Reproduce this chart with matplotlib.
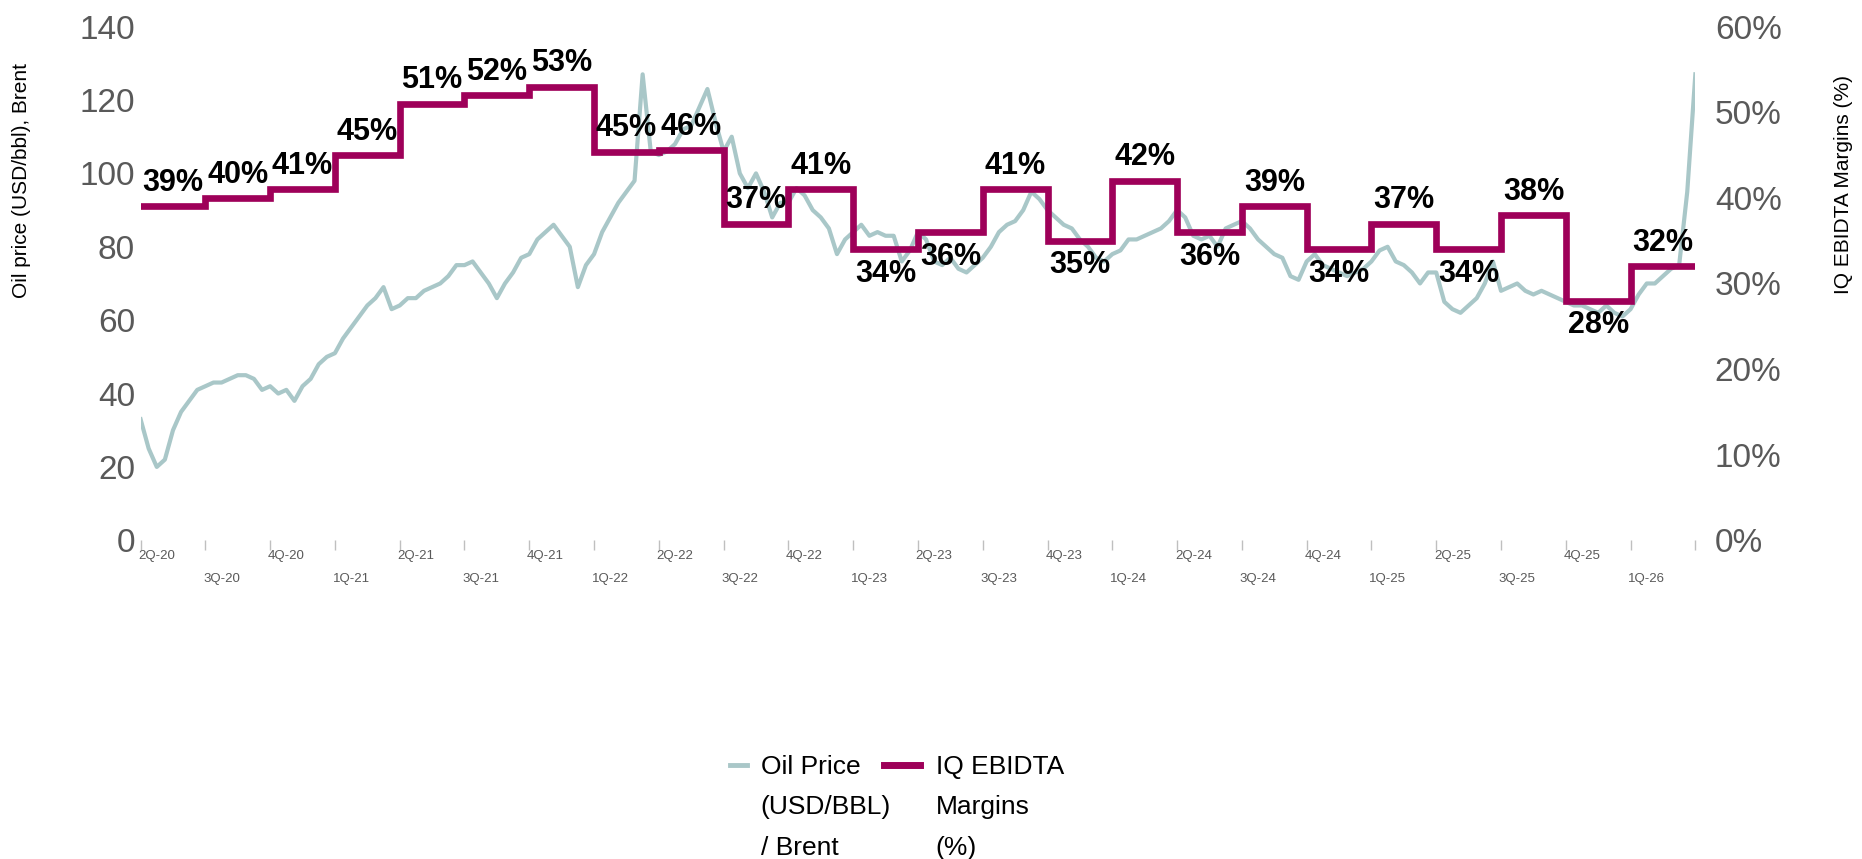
import numpy as np
import matplotlib.pyplot as plt
from matplotlib.lines import Line2D

plt.rcParams['font.family'] = ['Liberation Sans', 'DejaVu Sans']

# Quarter labels (one step of the margin line per quarter)
quarters = ['2Q-20', '3Q-20', '4Q-20', '1Q-21', '2Q-21', '3Q-21', '4Q-21', '1Q-22',
            '2Q-22', '3Q-22', '4Q-22', '1Q-23', '2Q-23', '3Q-23', '4Q-23', '1Q-24',
            '2Q-24', '3Q-24', '4Q-24', '1Q-25', '2Q-25', '3Q-25', '4Q-25', '1Q-26']

# IQ EBITDA margins (%) per quarter
margins = [39, 40, 41, 45, 51, 52, 53, 45.4, 45.6, 37, 41, 34,
           36, 41, 35, 42, 36, 39, 34, 37, 34, 38, 28, 32]

# label below the step for these quarters
below = [11, 12, 14, 16, 18, 20, 22]

# Brent oil price (USD/bbl), 8 readings per quarter plus the last point
oil = [
    33, 25, 20, 22, 30, 35, 38, 41,      # 2Q-20
    42, 43, 43, 44, 45, 45, 44, 41,      # 3Q-20
    42, 40, 41, 38, 42, 44, 48, 50,      # 4Q-20
    51, 55, 58, 61, 64, 66, 69, 63,      # 1Q-21
    64, 66, 66, 68, 69, 70, 72, 75,      # 2Q-21
    75, 76, 73, 70, 66, 70, 73, 77,      # 3Q-21
    78, 82, 84, 86, 83, 80, 69, 75,      # 4Q-21
    78, 84, 88, 92, 95, 98, 127, 106,    # 1Q-22
    105, 106, 108, 112, 113, 118, 123, 114,  # 2Q-22
    106, 110, 100, 96, 100, 95, 88, 92,  # 3Q-22
    92, 96, 94, 90, 88, 85, 78, 82,      # 4Q-22
    84, 86, 83, 84, 83, 83, 76, 79,      # 1Q-23
    84, 82, 76, 75, 77, 74, 73, 75,      # 2Q-23
    77, 80, 84, 86, 87, 90, 95, 93,      # 3Q-23
    90, 88, 86, 85, 82, 80, 77, 76,      # 4Q-23
    78, 79, 82, 82, 83, 84, 85, 87,      # 1Q-24
    90, 88, 83, 82, 83, 80, 85, 86,      # 2Q-24
    87, 85, 82, 80, 78, 77, 72, 71,      # 3Q-24
    76, 78, 75, 74, 73, 72, 73, 74,      # 4Q-24
    76, 79, 80, 76, 75, 73, 70, 73,      # 1Q-25
    73, 65, 63, 62, 64, 66, 70, 76,      # 2Q-25
    68, 69, 70, 68, 67, 68, 67, 66,      # 3Q-25
    65, 64, 64, 63, 62, 64, 62, 61,      # 4Q-25
    63, 67, 70, 70, 72, 74, 75, 95,      # 1Q-26
    127,
]

oil_color = '#A9C7C8'
margin_color = '#9E0059'
tick_color = '#595959'

fig = plt.figure(figsize=(18.62, 8.59), dpi=100)
ax = fig.add_axes([0.0755, 0.371, 0.835, 0.598])
ax2 = ax.twinx()

n = len(quarters)
x_oil = np.linspace(0, n, len(oil))
ax.plot(x_oil, oil, color=oil_color, lw=3, zorder=2)

margin_frac = np.array(margins) / 100
x_step = np.arange(n + 1)
ax2.step(x_step, np.append(margin_frac, margin_frac[-1]), where='post',
         color=margin_color, lw=4.8, solid_joinstyle='miter', zorder=3)

# data labels
for i, v in enumerate(margins):
    if i in below:
        ax2.annotate(f'{v:.0f}%', (i + 0.5, v / 100), xytext=(0, -7),
                     textcoords='offset points', ha='center', va='top',
                     fontsize=22, fontweight='bold', color='black')
    else:
        ax2.annotate(f'{v:.0f}%', (i + 0.5, v / 100), xytext=(0, 6),
                     textcoords='offset points', ha='center', va='bottom',
                     fontsize=22, fontweight='bold', color='black')

ax.set_xlim(0, n)
ax.set_ylim(0, 140)
ax2.set_ylim(0, 0.6)
ax.set_yticks(range(0, 141, 20))
ax2.set_yticks(np.arange(0, 0.61, 0.1))
ax2.set_yticklabels([f'{int(round(t * 100))}%' for t in np.arange(0, 0.61, 0.1)])

for a in (ax, ax2):
    for s in a.spines.values():
        s.set_visible(False)
ax.tick_params(axis='y', length=0, labelsize=24, labelcolor=tick_color, pad=4)
ax2.tick_params(axis='y', length=0, labelsize=24, labelcolor=tick_color, pad=14)

# quarter boundary ticks and staggered labels
ax.set_xticks(range(n + 1))
ax.set_xticklabels([])
ax.tick_params(axis='x', length=7, width=1, color='#BFBFBF')
for i, q in enumerate(quarters):
    y = -0.03 if i % 2 == 0 else -0.075
    ax.text(i + 0.25, y, q, transform=ax.get_xaxis_transform(), ha='center',
            va='center', fontsize=9.5, color=tick_color)

fig.text(0.0115, 0.79, 'Oil price (USD/bbl), Brent', rotation=90,
         ha='center', va='center', fontsize=15, color='black')
fig.text(0.990, 0.785, 'IQ EBIDTA Margins (%)', rotation=90,
         ha='center', va='center', fontsize=15, color='black')

# legend
fig.add_artist(Line2D([0.392, 0.401], [0.110, 0.110], color=oil_color, lw=3.5))
fig.text(0.4085, 0.060, 'Oil Price\n(USD/BBL)\n/ Brent', ha='left', va='center',
         fontsize=19, color='black', linespacing=1.85)
fig.add_artist(Line2D([0.475, 0.494], [0.110, 0.110], color=margin_color, lw=5))
fig.text(0.5026, 0.060, 'IQ EBIDTA\nMargins\n(%)', ha='left', va='center',
         fontsize=19, color='black', linespacing=1.85)

fig.savefig('out.png', dpi=100)
